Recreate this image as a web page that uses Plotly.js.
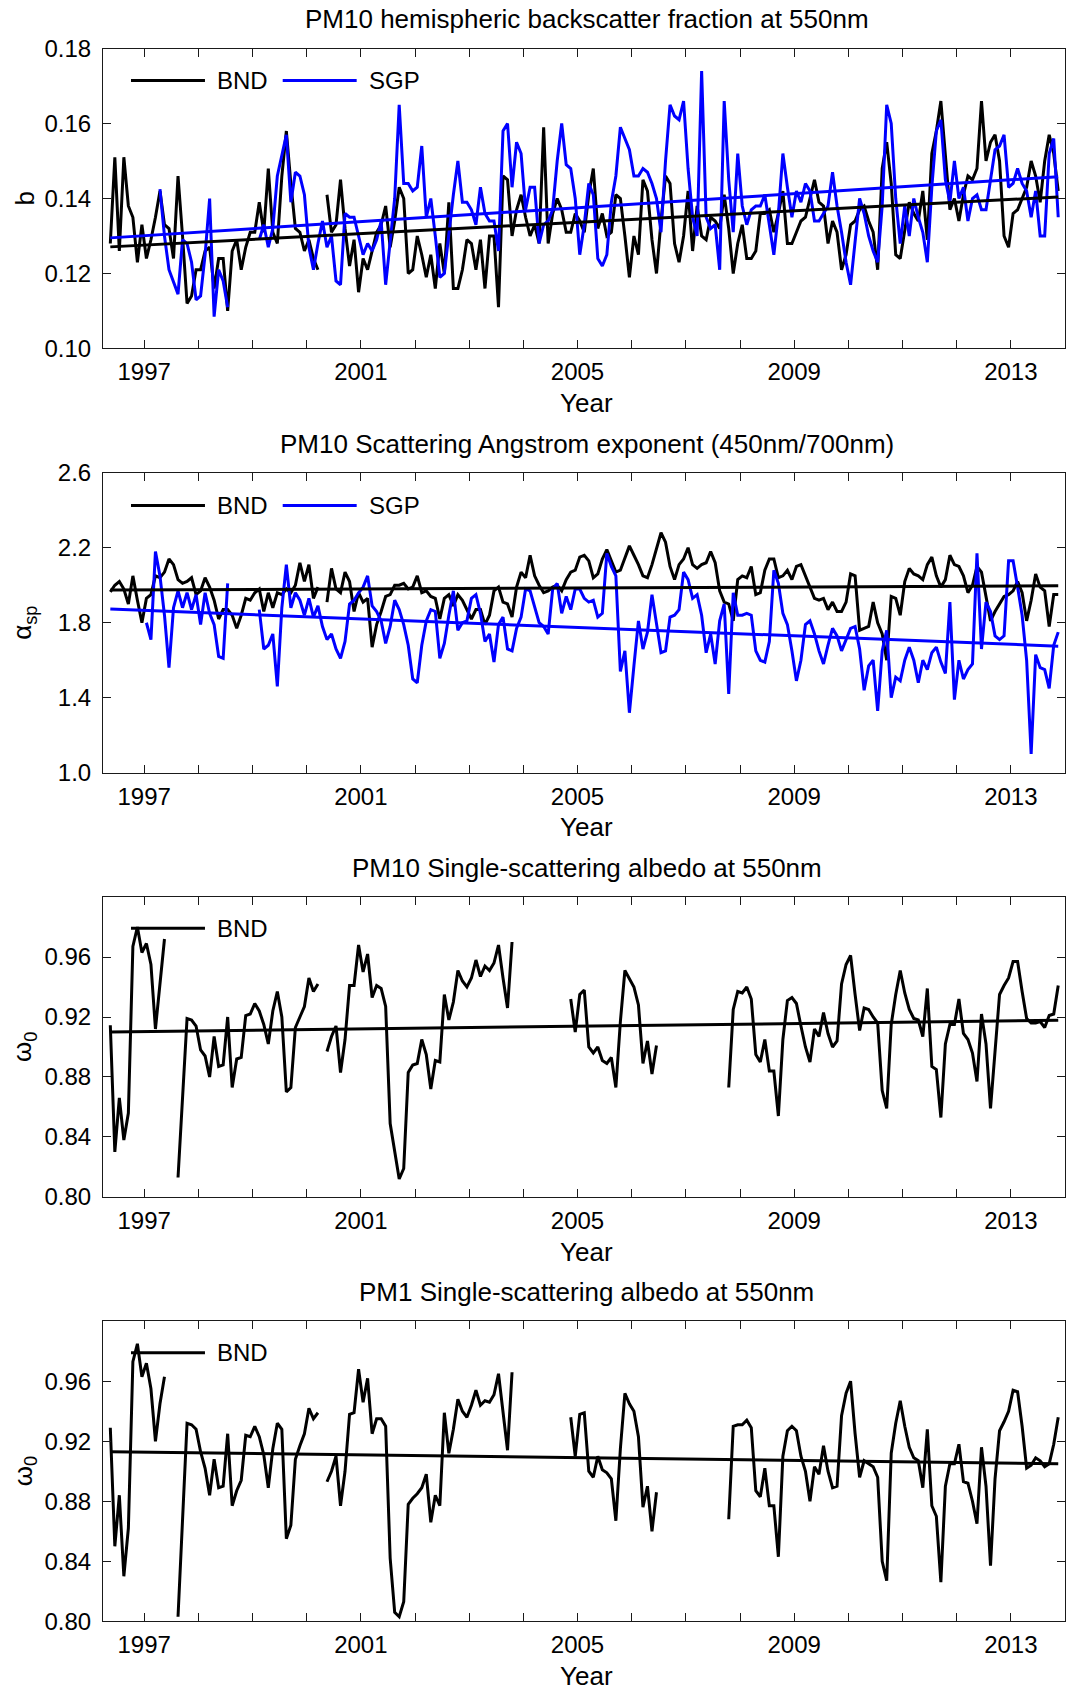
<!DOCTYPE html>
<html>
<head>
<meta charset="utf-8">
<script src="https://cdn.plot.ly/plotly-3.0.1.min.js"></script>
<style>
  html, body { margin: 0; padding: 0; background: #ffffff; }
  #chart { width: 1066px; height: 1686px; }
</style>
</head>
<body>
<div id="chart"></div>
<script>
// Monthly mean aerosol optical properties at BND and SGP, first month: May 1996
const firstMonth = { year: 1996, month: 5 };

// PM10 hemispheric backscatter fraction at 550 nm
const bBND = [
  0.128, 0.151, 0.126, 0.151, 0.138, 0.135, 0.123, 0.133, 0.124, 0.129,
  0.135, 0.142, 0.133, 0.132, 0.124, 0.146, 0.130, 0.112, 0.114, 0.121,
  0.121, 0.126, 0.127, 0.116, 0.124, 0.124, 0.110, 0.126, 0.129, 0.121,
  0.127, 0.131, 0.131, 0.139, 0.131, 0.148, 0.131, 0.128, 0.146, 0.158,
  0.144, 0.132, 0.131, 0.126, 0.129, 0.124, 0.121, null, 0.141, 0.131,
  0.133, 0.145, 0.132, 0.122, 0.129, 0.115, 0.124, 0.121, 0.126, 0.131,
  0.133, 0.138, 0.127, 0.134, 0.143, 0.140, 0.120, 0.121, 0.130, 0.125,
  0.119, 0.125, 0.116, 0.128, 0.120, 0.139, 0.116, 0.116, 0.121, 0.129,
  0.128, 0.121, 0.129, 0.116, 0.130, 0.130, 0.111, 0.146, 0.145, 0.130,
  0.137, 0.141, 0.135, 0.130, 0.133, 0.128, 0.159, 0.128, 0.136, 0.140,
  0.137, 0.131, 0.131, 0.136, 0.134, 0.131, 0.141, 0.148, 0.132, 0.136,
  0.130, 0.131, 0.141, 0.140, 0.130, 0.119, 0.130, 0.125, 0.145, 0.142,
  0.129, 0.120, 0.134, 0.146, 0.144, 0.128, 0.123, 0.130, 0.142, 0.126,
  0.138, 0.130, 0.129, 0.135, 0.134, 0.132, 0.141, 0.132, 0.120, 0.128,
  0.133, 0.124, 0.124, 0.126, 0.136, 0.136, 0.137, 0.131, 0.136, 0.142,
  0.128, 0.128, 0.131, 0.134, 0.135, 0.140, 0.145, 0.139, 0.138, 0.128,
  0.134, 0.131, 0.121, 0.125, 0.133, 0.134, 0.137, 0.138, 0.134, 0.131,
  0.121, 0.148, 0.155, 0.144, 0.125, 0.124, 0.132, 0.139, 0.136, 0.134,
  0.142, 0.129, 0.152, 0.158, 0.166, 0.152, 0.137, 0.140, 0.134, 0.141,
  0.146, 0.145, 0.148, 0.166, 0.150, 0.155, 0.157, 0.150, 0.130, 0.127,
  0.136, 0.137, 0.140, 0.143, 0.150, 0.146, 0.139, 0.150, 0.157, 0.152,
  0.142
];
const bSGP = [
  null, null, null, null, null, null, null, null, null, null,
  null, 0.1425, 0.130, 0.121, 0.118, 0.1145, 0.129, 0.128, 0.123, 0.113,
  0.114, 0.125, 0.140, 0.1085, 0.121, 0.118, 0.111, null, null, null,
  null, null, null, 0.129, 0.133, 0.127, 0.132, 0.146, 0.152, 0.157,
  0.139, 0.147, 0.146, 0.141, 0.127, 0.121, 0.128, 0.134, 0.127, 0.130,
  0.118, 0.117, 0.136, 0.135, 0.135, 0.130, 0.125, 0.128, 0.126, 0.129,
  0.134, 0.117, 0.128, 0.140, 0.165, 0.144, 0.144, 0.142, 0.143, 0.154,
  0.135, 0.140, 0.130, 0.119, 0.120, 0.131, 0.141, 0.150, 0.139, 0.139,
  0.137, 0.133, 0.143, 0.136, 0.134, 0.134, 0.126, 0.158, 0.160, 0.143,
  0.155, 0.152, 0.137, 0.143, 0.143, 0.128, 0.133, 0.134, 0.137, 0.150,
  0.160, 0.149, 0.148, 0.140, 0.125, 0.133, 0.144, 0.141, 0.124, 0.122,
  0.125, 0.139, 0.146, 0.159, 0.156, 0.153, 0.146, 0.146, 0.148, 0.147,
  0.144, 0.140, 0.131, 0.150, 0.165, 0.162, 0.161, 0.166, 0.148, 0.135,
  0.130, 0.174, 0.135, 0.132, 0.133, 0.121, 0.166, 0.145, 0.131, 0.152,
  0.138, 0.133, 0.137, 0.138, 0.138, 0.141, 0.133, 0.125, 0.136, 0.152,
  0.143, 0.135, 0.142, 0.139, 0.144, 0.142, 0.134, 0.134, 0.136, 0.138,
  0.147, 0.138, 0.131, 0.123, 0.117, 0.129, 0.140, 0.136, 0.130, 0.126,
  0.123, 0.138, 0.165, 0.160, 0.140, 0.128, 0.138, 0.130, 0.140, 0.135,
  0.131, 0.123, 0.143, 0.158, 0.161, 0.145, 0.139, 0.150, 0.140, 0.143,
  0.134, 0.140, 0.141, 0.137, 0.137, 0.145, 0.153, 0.154, 0.157, 0.143,
  0.144, 0.148, 0.144, 0.142, 0.135, 0.142, 0.130, 0.130, 0.152, 0.156,
  0.135
];
const bTrendBND = [0.1271, 0.1404];
const bTrendSGP = [0.1295, 0.1458];

// PM10 scattering Angstrom exponent (450/700 nm)
const aBND = [
  1.965, 2.00, 2.02, 1.98, 1.90, 2.05, 1.92, 1.80, 1.93, 1.95,
  2.05, 2.04, 2.07, 2.14, 2.11, 2.03, 2.01, 2.02, 2.04, 1.95,
  1.97, 2.04, 1.99, 1.92, 1.82, 1.87, 1.87, 1.84, 1.77, 1.84,
  1.93, 1.92, 1.96, 1.98, 1.86, 1.96, 1.88, 1.96, 1.95, 1.98,
  1.96, 2.00, 2.12, 2.02, 2.11, 1.93, 1.99, null, 1.91, 2.09,
  1.98, 1.96, 2.07, 2.02, 1.86, 1.96, 1.91, 1.93, 1.67, 1.79,
  1.86, 1.94, 1.95, 2.00, 2.00, 2.01, 1.98, 1.99, 2.05, 1.96,
  1.97, 1.94, 1.93, 1.82, 1.93, 1.95, 1.89, 1.95, 1.92, 1.87,
  1.82, 1.87, 1.87, 1.79, 1.84, 1.97, 1.99, 1.91, 1.90, 1.83,
  1.99, 2.07, 2.04, 2.16, 2.05, 2.00, 1.96, 1.97, 1.99, 2.00,
  1.97, 2.03, 2.07, 2.08, 2.15, 2.16, 2.13, 2.04, 2.06, 2.14,
  2.19, 2.13, 2.07, 2.08, 2.15, 2.21, 2.16, 2.11, 2.05, 2.04,
  2.11, 2.19, 2.28, 2.23, 2.10, 2.03, 2.11, 2.14, 2.20, 2.11,
  2.09, 2.11, 2.12, 2.18, 2.12, 1.97, 1.91, 1.90, 1.81, 2.03,
  2.05, 2.04, 2.10, 1.95, 1.96, 2.08, 2.14, 2.14, 2.04, 2.05,
  2.08, 2.03, 2.10, 2.11, 2.05, 2.00, 1.93, 1.92, 1.93, 1.87,
  1.91, 1.86, 1.86, 1.91, 2.06, 2.05, 1.76, 1.77, 1.78, 1.91,
  1.80, 1.74, 1.60, 1.94, 1.93, 1.84, 2.02, 2.09, 2.06, 2.05,
  2.03, 2.11, 2.15, 2.05, 1.99, 2.03, 2.16, 2.11, 2.10, 2.05,
  1.96, 2.00, 2.10, 2.07, 1.95, 1.81, 1.86, 1.90, 1.94, 1.95,
  1.97, 2.02, 1.96, 1.81, 1.92, 2.06, 1.99, 1.97, 1.78, 1.95,
  1.95
];
const aSGP = [
  null, null, null, null, null, null, null, null, 1.80, 1.71,
  2.18, 2.05, 1.84, 1.56, 1.88, 1.97, 1.88, 1.96, 1.87, 1.95,
  1.79, 1.96, 1.85, 1.79, 1.62, 1.61, 2.01, null, null, null,
  null, null, null, 1.87, 1.66, 1.68, 1.74, 1.46, 1.88, 2.11,
  1.88, 1.96, 1.92, 1.84, 1.93, 1.83, 1.89, 1.78, 1.71, 1.74,
  1.66, 1.61, 1.70, 1.90, 1.92, 1.96, 1.99, 2.05, 1.89, 1.86,
  1.81, 1.69, 1.78, 1.92, 1.87, 1.79, 1.68, 1.50, 1.48, 1.68,
  1.81, 1.87, 1.86, 1.61, 1.69, 1.84, 1.97, 1.76, 1.80, 1.81,
  1.93, 1.95, 1.85, 1.70, 1.74, 1.59, 1.79, 1.83, 1.66, 1.65,
  1.77, 1.83, 1.98, 1.97, 1.89, 1.80, 1.78, 1.74, 1.98, 2.01,
  1.85, 1.94, 1.87, 1.98, 1.98, 1.93, 1.91, 1.92, 1.83, 1.85,
  2.17, 2.10, 2.05, 1.54, 1.65, 1.32, 1.57, 1.81, 1.66, 1.75,
  1.95, 1.79, 1.64, 1.65, 1.83, 1.84, 1.87, 2.07, 2.03, 1.93,
  1.95, 1.84, 1.64, 1.74, 1.58, 1.81, 1.90, 1.42, 1.96, 1.84,
  1.84, 1.85, 1.84, 1.65, 1.60, 1.59, 1.70, 2.08, 2.01, 1.85,
  1.79, 1.65, 1.49, 1.60, 1.79, 1.81, 1.74, 1.65, 1.58, 1.68,
  1.77, 1.73, 1.65, 1.71, 1.77, 1.78, 1.66, 1.44, 1.57, 1.60,
  1.33, 1.65, 1.76, 1.40, 1.51, 1.49, 1.60, 1.67, 1.60, 1.48,
  1.60, 1.55, 1.64, 1.67, 1.59, 1.53, 1.91, 1.39, 1.60, 1.50,
  1.55, 1.58, 2.17, 1.66, 1.91, 1.86, 1.73, 1.71, 1.73, 2.13,
  2.13, 1.99, 1.84, 1.60, 1.10, 1.63, 1.56, 1.55, 1.45, 1.68,
  1.75
];
const aTrendBND = [1.974, 1.997];
const aTrendSGP = [1.873, 1.675];

// PM10 single-scattering albedo at 550 nm, BND
const w10BND = [
  0.9145, 0.830, 0.866, 0.838, 0.856, 0.967, 0.980, 0.963, 0.969, 0.955,
  0.912, 0.940, 0.972, null, null, 0.813, 0.868, 0.919, 0.918, 0.914,
  0.898, 0.894, 0.880, 0.907, 0.887, 0.888, 0.920, 0.873, 0.892, 0.893,
  0.921, 0.922, 0.929, 0.924, 0.915, 0.902, 0.924, 0.937, 0.920, 0.870,
  0.873, 0.913, 0.920, 0.927, 0.946, 0.937, 0.942, null, 0.897, 0.907,
  0.914, 0.883, 0.905, 0.941, 0.941, 0.968, 0.950, 0.962, 0.933, 0.941,
  0.939, 0.927, 0.849, 0.829, 0.812, 0.819, 0.883, 0.888, 0.889, 0.905,
  0.895, 0.872, 0.891, 0.890, 0.935, 0.918, 0.930, 0.951, 0.944, 0.940,
  0.946, 0.958, 0.947, 0.954, 0.951, 0.956, 0.968, 0.946, 0.926, 0.970,
  null, null, null, null, null, null, null, null, null, null,
  null, null, 0.932, 0.910, 0.935, 0.938, 0.900, 0.896, 0.900, 0.891,
  0.889, 0.893, 0.873, 0.917, 0.951, 0.945, 0.940, 0.928, 0.889, 0.904,
  0.882, 0.901, null, null, null, null, null, null, null, null,
  null, null, null, null, null, null, null, 0.873, 0.925, 0.937,
  0.936, 0.940, 0.932, 0.895, 0.890, 0.905, 0.884, 0.884, 0.854, 0.905,
  0.931, 0.933, 0.929, 0.914, 0.900, 0.890, 0.912, 0.907, 0.923, 0.909,
  0.900, 0.904, 0.942, 0.955, 0.961, 0.935, 0.911, 0.926, 0.925, 0.920,
  0.916, 0.871, 0.859, 0.915, 0.935, 0.951, 0.936, 0.925, 0.919, 0.918,
  0.907, 0.939, 0.887, 0.885, 0.853, 0.902, 0.915, 0.915, 0.932, 0.909,
  0.905, 0.896, 0.877, 0.922, 0.902, 0.859, 0.900, 0.935, 0.941, 0.946,
  0.957, 0.957, 0.937, 0.919, 0.916, 0.916, 0.917, 0.913, 0.921, 0.922,
  0.941
];
const w10Trend = [0.910, 0.9178];

// PM1 single-scattering albedo at 550 nm, BND
const w1BND = [
  0.929, 0.850, 0.884, 0.830, 0.862, 0.973, 0.985, 0.963, 0.972, 0.955,
  0.920, 0.945, 0.963, null, null, 0.803, 0.866, 0.932, 0.931, 0.928,
  0.913, 0.902, 0.884, 0.908, 0.889, 0.890, 0.925, 0.877, 0.887, 0.894,
  0.924, 0.923, 0.930, 0.923, 0.911, 0.889, 0.915, 0.932, 0.928, 0.855,
  0.864, 0.908, 0.917, 0.925, 0.942, 0.935, 0.939, null, 0.893, 0.900,
  0.910, 0.877, 0.900, 0.938, 0.939, 0.968, 0.946, 0.962, 0.925, 0.935,
  0.935, 0.930, 0.842, 0.806, 0.803, 0.813, 0.878, 0.882, 0.885, 0.889,
  0.898, 0.866, 0.884, 0.877, 0.939, 0.912, 0.928, 0.948, 0.940, 0.936,
  0.944, 0.954, 0.944, 0.947, 0.946, 0.951, 0.965, 0.941, 0.914, 0.966,
  null, null, null, null, null, null, null, null, null, null,
  null, null, 0.936, 0.910, 0.938, 0.939, 0.900, 0.896, 0.910, 0.901,
  0.899, 0.895, 0.867, 0.915, 0.952, 0.945, 0.940, 0.923, 0.876, 0.890,
  0.860, 0.886, null, null, null, null, null, null, null, null,
  null, null, null, null, null, null, null, 0.868, 0.930, 0.931,
  0.931, 0.934, 0.929, 0.887, 0.883, 0.902, 0.877, 0.877, 0.843, 0.910,
  0.927, 0.930, 0.927, 0.910, 0.900, 0.880, 0.903, 0.898, 0.917, 0.900,
  0.889, 0.890, 0.937, 0.952, 0.960, 0.925, 0.896, 0.907, 0.905, 0.903,
  0.896, 0.840, 0.827, 0.912, 0.932, 0.947, 0.930, 0.916, 0.909, 0.907,
  0.889, 0.928, 0.877, 0.870, 0.826, 0.890, 0.905, 0.905, 0.918, 0.893,
  0.892, 0.880, 0.865, 0.916, 0.890, 0.837, 0.895, 0.927, 0.933, 0.940,
  0.954, 0.953, 0.930, 0.902, 0.904, 0.909, 0.907, 0.903, 0.905, 0.918,
  0.936
];
const w1Trend = [0.913, 0.905];

// Axis ticks and labels
const yearTicks = [1997, 1998, 1999, 2000, 2001, 2002, 2003, 2004, 2005,
                   2006, 2007, 2008, 2009, 2010, 2011, 2012, 2013];
const yearLabels = ['1997', '', '', '', '2001', '', '', '', '2005',
                    '', '', '', '2009', '', '', '', '2013'];
const bTicks = [0.10, 0.12, 0.14, 0.16, 0.18];
const aTicks = [1.0, 1.4, 1.8, 2.2, 2.6];
const wTicks = [0.80, 0.84, 0.88, 0.92, 0.96];

const panelTitles = [
  'PM10 hemispheric backscatter fraction at 550nm',
  'PM10 Scattering Angstrom exponent (450nm/700nm)',
  'PM10 Single-scattering albedo at 550nm',
  'PM1 Single-scattering albedo at 550nm'
];
const yTitles = ['b', '\u03b1<sub>sp</sub>', '\u03c9<sub>0</sub>', '\u03c9<sub>0</sub>'];
const stationNames = ['BND', 'SGP'];

// Month-centre decimal years
const months = bBND.map((_, i) => firstMonth.year + (firstMonth.month - 0.5 + i) / 12);
const span = [months[0], months[months.length - 1]];

const BLACK = '#000000';
const BLUE = '#0000ff';
const LW = 3;

function series(x, y, color, ax) {
  return {
    x: x, y: y, type: 'scatter', mode: 'lines',
    line: { color: color, width: LW },
    connectgaps: false, showlegend: false, hoverinfo: 'skip',
    xaxis: 'x' + ax, yaxis: 'y' + ax
  };
}

const data = [
  series(months, bBND, BLACK, ''),
  series(months, bSGP, BLUE, ''),
  series(span, bTrendBND, BLACK, ''),
  series(span, bTrendSGP, BLUE, ''),
  series(months, aBND, BLACK, '2'),
  series(months, aSGP, BLUE, '2'),
  series(span, aTrendBND, BLACK, '2'),
  series(span, aTrendSGP, BLUE, '2'),
  series(months, w10BND, BLACK, '3'),
  series(span, w10Trend, BLACK, '3'),
  series(months, w1BND, BLACK, '4'),
  series(span, w1Trend, BLACK, '4')
];

const FONT = 'Liberation Sans, Arial, Helvetica, sans-serif';
const FS = 24;      // tick labels and legend
const FS_T = 26;    // panel and axis titles
const AXC = '#1a1a1a';

// vertical extent of each panel (fraction of page height, bottom to top)
const domains = [
  [0.79330, 0.97123],
  [0.54167, 0.71961],
  [0.29004, 0.46797],
  [0.03840, 0.21634]
];

function xAxis(i) {
  return {
    domain: [0, 1], anchor: i === 0 ? 'y' : 'y' + (i + 1),
    range: [1996.24, 2014.0],
    tickmode: 'array', tickvals: yearTicks, ticktext: yearLabels,
    ticks: 'inside', ticklen: 8, tickwidth: 1, tickcolor: AXC,
    showline: true, linecolor: AXC, linewidth: 1, mirror: 'ticks',
    showgrid: false, zeroline: false, ticklabelstandoff: 2,
    tickfont: { family: FONT, size: FS, color: '#000' }
  };
}
function yAxis(i, range, ticks, fmt) {
  return {
    domain: domains[i], anchor: i === 0 ? 'x' : 'x' + (i + 1),
    range: range, tickmode: 'array', tickvals: ticks, tickformat: fmt,
    ticks: 'inside', ticklen: 8, tickwidth: 1, tickcolor: AXC,
    showline: true, linecolor: AXC, linewidth: 1, mirror: 'ticks',
    showgrid: false, zeroline: false, ticklabelstandoff: 6,
    tickfont: { family: FONT, size: FS, color: '#000' }
  };
}

const layout = {
  width: 1066, height: 1686,
  margin: { l: 103, r: 1, t: 0, b: 0 },
  paper_bgcolor: '#ffffff', plot_bgcolor: '#ffffff',
  font: { family: FONT, size: FS, color: '#000' },
  showlegend: false,
  xaxis: xAxis(0), yaxis: yAxis(0, [0.10, 0.18], bTicks, '.2f'),
  xaxis2: xAxis(1), yaxis2: yAxis(1, [1.0, 2.6], aTicks, '.1f'),
  xaxis3: xAxis(2), yaxis3: yAxis(2, [0.80, 1.00], wTicks, '.2f'),
  xaxis4: xAxis(3), yaxis4: yAxis(3, [0.80, 1.00], wTicks, '.2f'),
  annotations: [], shapes: []
};

const axKey = i => (i === 0 ? '' : String(i + 1));
const legendY = [0.893, 0.891, 0.896, 0.895];

for (let i = 0; i < 4; i++) {
  const k = axKey(i);
  const xr = 'x' + k + ' domain', yr = 'y' + k + ' domain';
  layout.annotations.push({
    text: panelTitles[i], xref: xr, yref: yr, x: 0.503, y: 1.097,
    xanchor: 'center', yanchor: 'middle', showarrow: false,
    font: { family: FONT, size: FS_T, color: '#000' }
  });
  layout.annotations.push({
    text: 'Year', xref: xr, yref: yr, x: 0.503, y: -0.182,
    xanchor: 'center', yanchor: 'middle', showarrow: false,
    font: { family: FONT, size: FS_T, color: '#000' }
  });
  layout.annotations.push({
    text: yTitles[i], xref: xr, yref: yr, x: -0.082, y: 0.5,
    xanchor: 'center', yanchor: 'middle', textangle: -90, showarrow: false,
    font: { family: FONT, size: FS_T, color: '#000' }
  });
  // legend: line sample + station name
  const nItems = i < 2 ? 2 : 1;
  const colors = [BLACK, BLUE];
  for (let j = 0; j < nItems; j++) {
    const x0 = 0.0291 + j * 0.1577;
    layout.shapes.push({
      type: 'line', xref: xr, yref: yr, x0: x0, x1: x0 + 0.0769,
      y0: legendY[i], y1: legendY[i], line: { color: colors[j], width: LW }
    });
    layout.annotations.push({
      text: stationNames[j], xref: xr, yref: yr, x: x0 + 0.0873, y: legendY[i],
      xanchor: 'left', yanchor: 'middle', showarrow: false,
      font: { family: FONT, size: FS, color: '#000' }
    });
  }
}

Plotly.newPlot('chart', data, layout, { staticPlot: true, displayModeBar: false });
</script>
</body>
</html>
